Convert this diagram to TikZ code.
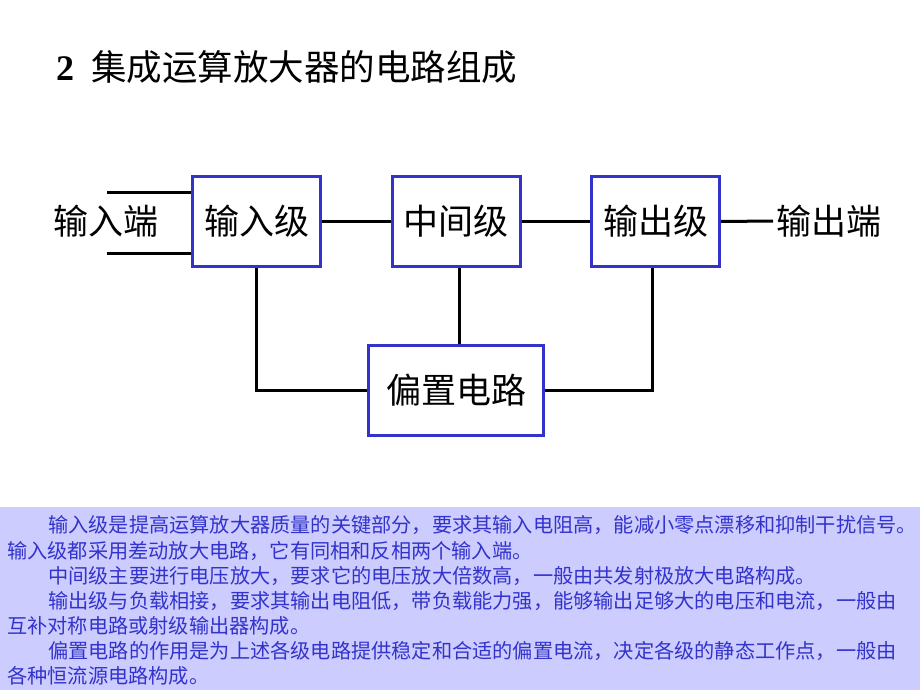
\documentclass[tikz,border=0pt]{standalone}
\usepackage{fontspec}
\setmainfont{Liberation Serif}
\newfontfamily\cjk{Noto Sans CJK SC}
\usetikzlibrary{positioning}
\usepackage{xcolor}
\definecolor{boxblue}{RGB}{51,51,204}
\definecolor{notefill}{RGB}{204,204,255}

\begin{document}
\begin{tikzpicture}[x=1pt,y=-1pt,
	stage/.style={draw=boxblue,line width=3pt,fill=white,inner sep=0pt,
		minimum width=128pt,minimum height=90pt,font=\cjk\fontsize{35}{35}\selectfont},
	wire/.style={line width=3pt,black},
	lbl/.style={inner sep=0pt,font=\cjk\fontsize{35}{35}\selectfont},
	note/.style={anchor=west,inner sep=0pt,text=boxblue,font=\cjk\fontsize{20.2}{20.2}\selectfont}]
	\useasboundingbox (0,0) rectangle (920,690);
	\fill[notefill] (0,507) rectangle (920,690);

	% title
	\node[anchor=west,inner sep=0pt,font=\bfseries\fontsize{36}{36}\selectfont] (title) at (56,67)
		{2\hspace{17pt}{\cjk\mdseries\fontsize{35.5}{35.5}\selectfont 集成运算放大器的电路组成}};

	% the three stages
	\foreach \n/\x/\t in {in/256.5/输入级, mid/456/中间级, out/655.5/输出级}
		\node[stage] (\n) at (\x,221.5) {\t};
	\node[stage,minimum width=175pt] (bias) at (456,390.5) {偏置电路};

	% input and output
	\node[lbl] (inlbl) at (106,221) {输入端};
	\coordinate (inA) at (107,192);
	\coordinate (inB) at (107,253);
	\draw[wire] (inA) -- (inA -| in.west);
	\draw[wire] (inB) -- (inB -| in.west);
	\node[lbl,anchor=west] (outlbl) at (776,221) {输出端};
	\draw[wire] (out.east) -- (outlbl.west -| 773,0);

	% chain and bias
	\draw[wire] (in.east) -- (mid.west);
	\draw[wire] (mid.east) -- (out.west);
	\draw[wire] (in.south) |- (bias.west);
	\draw[wire] (mid.south -| 459,0) -- (bias.north -| 459,0);
	\draw[wire] (out.south -| 652,0) |- (bias.east);

	% notes
	\node[note] (n1) at (7,525) {\hspace{41pt}输入级是提高运算放大器质量的关键部分，要求其输入电阻高，能减小零点漂移和抑制干扰信号。};
	\node[note] (n2) at (7,551) {输入级都采用差动放大电路，它有同相和反相两个输入端。};
	\node[note] (n3) at (7,576) {\hspace{41pt}中间级主要进行电压放大，要求它的电压放大倍数高，一般由共发射极放大电路构成。};
	\node[note] (n4) at (7,601) {\hspace{41pt}输出级与负载相接，要求其输出电阻低，带负载能力强，能够输出足够大的电压和电流，一般由};
	\node[note] (n5) at (7,626) {互补对称电路或射级输出器构成。};
	\node[note] (n6) at (7,651) {\hspace{41pt}偏置电路的作用是为上述各级电路提供稳定和合适的偏置电流，决定各级的静态工作点，一般由};
	\node[note] (n7) at (7,676) {各种恒流源电路构成。};
\end{tikzpicture}
\end{document}
